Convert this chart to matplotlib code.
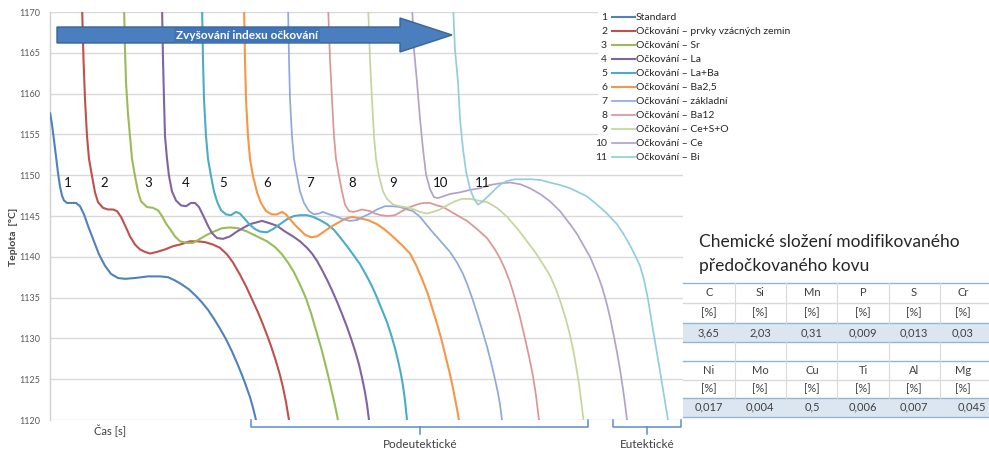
import matplotlib
matplotlib.use("Agg")
import matplotlib.pyplot as plt
from matplotlib.patches import Polygon, Rectangle
from matplotlib.lines import Line2D

plt.rcParams['font.family'] = ['Lato', 'DejaVu Sans']

# ---------------- data (time in arbitrary units, temperature in °C) ----------------
series_names = ["Standard", "Očkování – prvky vzácných zemin", "Očkování – Sr", "Očkování – La",
                "Očkování – La+Ba", "Očkování – Ba2,5", "Očkování – základní", "Očkování – Ba12",
                "Očkování – Ce+S+O", "Očkování – Ce", "Očkování – Bi"]
series_colors = ["#4F81BD", "#C0504D", "#9BBB59", "#8064A2", "#4BACC6", "#F79646",
                 "#8EA9DB", "#DA9694", "#C3D69B", "#B3A2C7", "#93CDDD"]

t1 = [0, 2, 4, 6, 8, 10, 12, 14, 17, 20, 26, 30, 34, 38, 43, 49, 55, 61, 68, 75, 85, 98, 110, 118, 125, 132, 139, 146, 152, 158, 164, 170, 176, 182, 187, 192, 196, 200, 203, 206]
T1 = [1157.7, 1156.2, 1154.3, 1152.3, 1150.3, 1148.6, 1147.5, 1146.9, 1146.6, 1146.6, 1146.6, 1146.2, 1145.2, 1143.8, 1142.2, 1140.3, 1138.9, 1137.9, 1137.4, 1137.3, 1137.4, 1137.6, 1137.6, 1137.5, 1137.1, 1136.6, 1136.0, 1135.2, 1134.4, 1133.5, 1132.4, 1131.2, 1129.9, 1128.4, 1127.0, 1125.5, 1124.2, 1122.8, 1121.5, 1120.0]

t2 = [32, 33.5, 35, 37, 39, 42, 45, 48, 53, 58, 63, 67, 71, 76, 80, 85, 90, 95, 100, 107, 115, 123, 130, 140, 147, 155, 163, 170, 177, 183, 190, 196, 202, 208, 213, 218, 222, 226, 230, 233, 236, 239]
T2 = [1171, 1164.2, 1159.3, 1154.8, 1152.0, 1149.9, 1147.9, 1146.7, 1146.0, 1145.8, 1145.8, 1145.6, 1144.9, 1143.6, 1142.5, 1141.5, 1140.9, 1140.6, 1140.4, 1140.6, 1140.9, 1141.3, 1141.5, 1141.9, 1141.9, 1141.8, 1141.5, 1141.1, 1140.3, 1139.3, 1137.8, 1136.4, 1134.8, 1133.2, 1131.7, 1130.1, 1128.7, 1127.2, 1125.5, 1124.0, 1122.2, 1120.0]

t3 = [74, 75, 76, 78, 80, 82, 85, 88, 91, 97, 103, 108, 112, 116, 120, 125, 130, 137, 143, 150, 157, 164, 172, 180, 188, 197, 207, 217, 225, 232, 238, 244, 250, 256, 261, 266, 271, 275, 279, 282, 285, 288]
T3 = [1171, 1165.4, 1161.4, 1157.5, 1154.8, 1152.0, 1149.9, 1148.0, 1146.8, 1146.1, 1146.0, 1145.7, 1145.0, 1144.1, 1143.4, 1142.5, 1141.9, 1141.7, 1141.7, 1142.2, 1142.7, 1143.1, 1143.5, 1143.6, 1143.5, 1143.1, 1142.5, 1141.9, 1141.2, 1140.3, 1139.3, 1138.1, 1136.6, 1134.9, 1133.1, 1131.0, 1128.9, 1127.0, 1125.0, 1123.4, 1121.8, 1120.0]

t4 = [112, 113, 114, 115, 117, 119, 122, 126, 131, 136, 141, 145, 149, 153, 158, 162, 167, 173, 180, 187, 194, 200, 206, 212, 220, 227, 235, 243, 250, 257, 262, 267, 272, 277, 282, 287, 292, 297, 301, 305, 309, 312, 315, 317, 319]
T4 = [1171, 1164.2, 1159.3, 1154.8, 1152.0, 1149.9, 1148.0, 1146.9, 1146.3, 1146.2, 1146.6, 1146.6, 1146.1, 1145.1, 1143.8, 1142.9, 1142.3, 1142.2, 1142.5, 1143.1, 1143.6, 1144.0, 1144.2, 1144.4, 1144.1, 1143.8, 1143.1, 1142.5, 1141.9, 1141.1, 1140.4, 1139.5, 1138.4, 1137.2, 1135.9, 1134.5, 1133.0, 1131.4, 1130.0, 1128.5, 1126.8, 1125.2, 1123.4, 1121.9, 1120.0]

t5 = [152, 153, 154, 156, 158, 161, 164, 167, 171, 176, 181, 186, 190, 195, 200, 205, 210, 217, 223, 230, 237, 244, 250, 257, 263, 270, 277, 284, 290, 297, 303, 310, 316, 322, 327, 332, 337, 341, 345, 348, 351, 353, 355, 357]
T5 = [1171, 1164.2, 1159.3, 1154.8, 1152.0, 1149.9, 1148.0, 1146.8, 1145.7, 1145.2, 1145.1, 1145.5, 1145.3, 1144.6, 1143.9, 1143.4, 1143.1, 1143.0, 1143.4, 1144.0, 1144.6, 1145.0, 1145.1, 1145.1, 1144.9, 1144.5, 1144.0, 1143.3, 1142.4, 1141.3, 1140.3, 1139.1, 1137.8, 1136.4, 1135.0, 1133.5, 1132.0, 1130.5, 1128.8, 1127.3, 1125.6, 1124.2, 1122.4, 1120.0]

t6 = [194, 195, 196, 198, 200, 203, 207, 211, 216, 222, 227, 232, 236, 240, 245, 250, 255, 261, 267, 273, 280, 287, 294, 302, 310, 318, 327, 334, 340, 347, 353, 360, 366, 372, 378, 383, 388, 392, 396, 400, 403, 406, 409]
T6 = [1171, 1164.2, 1159.3, 1154.8, 1152.0, 1149.9, 1147.9, 1146.6, 1145.6, 1145.2, 1145.2, 1145.5, 1145.2, 1144.6, 1143.9, 1143.3, 1142.7, 1142.4, 1142.5, 1143.0, 1143.6, 1144.1, 1144.6, 1144.9, 1144.7, 1144.5, 1144.0, 1143.4, 1142.8, 1142.0, 1141.3, 1140.4, 1139.0, 1137.3, 1135.4, 1133.4, 1131.4, 1129.6, 1127.6, 1125.6, 1123.9, 1122.0, 1120.0]

t7 = [238, 239, 240, 242, 244, 247, 250, 254, 259, 264, 269, 273, 277, 282, 287, 293, 300, 307, 313, 320, 327, 335, 342, 350, 357, 363, 370, 380, 390, 400, 407, 413, 417, 422, 427, 432, 437, 441, 445, 448, 450, 452]
T7 = [1171, 1164.2, 1159.3, 1154.8, 1152.0, 1149.9, 1148.0, 1146.6, 1145.6, 1145.2, 1145.3, 1145.5, 1145.3, 1145.1, 1144.9, 1144.6, 1144.4, 1144.5, 1144.9, 1145.3, 1145.8, 1146.2, 1146.2, 1146.1, 1145.8, 1145.6, 1144.9, 1143.4, 1142.0, 1140.6, 1139.3, 1137.9, 1136.7, 1135.0, 1133.1, 1131.1, 1129.0, 1127.1, 1125.0, 1123.3, 1121.9, 1120.0]

t8 = [278, 280, 282, 284, 286, 289, 292, 295, 299, 303, 307, 312, 316, 320, 325, 331, 338, 345, 352, 360, 367, 373, 380, 387, 393, 400, 407, 417, 427, 437, 445, 450, 455, 460, 465, 470, 475, 479, 483, 486, 489]
T8 = [1171, 1164.2, 1159.3, 1154.8, 1152.0, 1149.9, 1148.0, 1146.4, 1145.6, 1145.5, 1145.6, 1145.8, 1145.7, 1145.6, 1145.3, 1145.1, 1145.0, 1145.1, 1145.6, 1146.1, 1146.4, 1146.6, 1146.6, 1146.3, 1146.1, 1145.6, 1145.1, 1144.4, 1143.4, 1142.3, 1140.9, 1139.8, 1138.5, 1136.9, 1134.9, 1132.6, 1130.0, 1127.8, 1125.4, 1123.0, 1120.0]

t9 = [318, 320, 322, 324, 326, 329, 333, 337, 343, 350, 360, 370, 377, 383, 390, 397, 405, 412, 420, 428, 437, 447, 457, 467, 477, 485, 493, 500, 506, 511, 516, 520, 523, 526, 529, 531, 533.5]
T9 = [1171, 1164.2, 1159.3, 1154.8, 1152.0, 1149.9, 1148.0, 1147.1, 1146.4, 1146.2, 1146.0, 1145.5, 1145.3, 1145.5, 1145.8, 1146.3, 1146.8, 1147.1, 1147.1, 1146.9, 1146.7, 1146.0, 1144.9, 1143.5, 1141.9, 1140.6, 1139.1, 1137.7, 1136.0, 1134.3, 1132.3, 1130.4, 1128.7, 1126.7, 1124.4, 1122.5, 1120.0]

t10 = [362, 364, 367, 370, 373, 376, 380, 384, 388, 393, 400, 410, 420, 430, 440, 450, 460, 470, 480, 490, 500, 510, 520, 527, 533, 540, 547, 552, 556, 560, 564, 567, 570, 573, 575, 577]
T10 = [1171, 1165.4, 1161.4, 1156.9, 1153.2, 1150.1, 1148.3, 1147.3, 1147.2, 1147.4, 1147.7, 1147.9, 1148.2, 1148.4, 1148.8, 1149.0, 1149.1, 1148.9, 1148.4, 1147.7, 1146.8, 1145.6, 1144.0, 1142.8, 1141.5, 1140.0, 1138.0, 1136.3, 1134.6, 1132.6, 1130.2, 1128.3, 1126.2, 1123.8, 1122.0, 1120.0]

t11 = [403, 405, 408, 410, 413, 416, 420, 424, 428, 432, 437, 442, 447, 452, 457, 465, 473, 482, 491, 500, 510, 520, 527, 537, 547, 557, 567, 574, 580, 585, 590, 594, 598, 602, 606, 610, 614, 618]
T11 = [1171, 1165.4, 1161.4, 1156.9, 1153.2, 1150.5, 1148.3, 1147.1, 1146.4, 1146.7, 1147.3, 1147.9, 1148.5, 1149.0, 1149.3, 1149.5, 1149.5, 1149.5, 1149.4, 1149.1, 1148.8, 1148.4, 1148.0, 1147.4, 1146.4, 1145.3, 1144.0, 1142.7, 1141.4, 1140.2, 1138.9, 1137.2, 1134.8, 1131.8, 1128.9, 1126.0, 1123.0, 1120.0]

series_t = [t1, t2, t3, t4, t5, t6, t7, t8, t9, t10, t11]
series_T = [T1, T2, T3, T4, T5, T6, T7, T8, T9, T10, T11]

# curve number labels (time position)
label_numbers = ["1", "2", "3", "4", "5", "6", "7", "8", "9", "10", "11"]
label_t = [18, 54, 98, 136, 173, 217, 260, 302, 343, 391, 433]
label_T = 1149.1

y_ticks = [1120, 1125, 1130, 1135, 1140, 1145, 1150, 1155, 1160, 1165, 1170]

chem_elements_1 = ["C", "Si", "Mn", "P", "S", "Cr"]
chem_values_1 = ["3,65", "2,03", "0,31", "0,009", "0,013", "0,03"]
chem_elements_2 = ["Ni", "Mo", "Cu", "Ti", "Al", "Mg"]
chem_values_2 = ["0,017", "0,004", "0,5", "0,006", "0,007", "0,045"]

# ---------------- figure ----------------
W, H = 989, 453
fig = plt.figure(figsize=(W / 100, H / 100), dpi=100)
ax = fig.add_axes([50 / W, (H - 420) / H, 633 / W, 408 / H])

for i in range(11):
    lw = 1.5 if i < 6 else 1.25
    ax.plot(series_t[i], series_T[i], color=series_colors[i], lw=lw,
            solid_capstyle='butt', solid_joinstyle='round', zorder=3)

ax.set_xlim(0, 633)
ax.set_ylim(1120, 1170)
ax.set_yticks(y_ticks)
ax.set_xticks([])
ax.tick_params(axis='y', length=0, pad=7, labelsize=6.5, labelcolor='#595959')
ax.grid(axis='y', color='#D9D9D9', lw=1.0)
ax.set_axisbelow(True)
for s in ['top', 'right', 'bottom']:
    ax.spines[s].set_visible(False)
ax.spines['left'].set_color('#D0D0D0')
ax.spines['left'].set_linewidth(1.0)

for n, tx in zip(label_numbers, label_t):
    ax.text(tx, label_T, n, fontsize=9.5, color='#111111', ha='center', va='center', zorder=4)

# overlay in pixel coordinates for annotations
ov = fig.add_axes([0, 0, 1, 1], zorder=10)
ov.set_xlim(0, W)
ov.set_ylim(H, 0)
ov.axis('off')

# y label and x label
ov.text(14, 237, "Teplota  [°C]", rotation=90, fontsize=7.5, fontweight='bold', color='#404040',
        ha='center', va='center')
ov.text(110, 431, "Čas [s]", fontsize=8, color='#404040', ha='center', va='center')

# big arrow
arrow = Polygon([(57, 27), (400, 27), (400, 18), (452, 35), (400, 52), (400, 43), (57, 43)],
                closed=True, facecolor='#4A7EBF', edgecolor='#3A6496', lw=1.0)
ov.add_patch(arrow)
ov.text(247, 35.5, "Zvyšování indexu očkování", fontsize=8.5, fontweight='bold', color='white',
        ha='center', va='center',
        bbox=dict(boxstyle='square,pad=0.15', facecolor='#3F74B8', edgecolor='none'))

# legend (white box covering the gridlines)
ov.add_patch(Rectangle((598, 0), 200, 171, facecolor='white', edgecolor='none'))
for i in range(11):
    y = 17 + 14 * i
    ov.text(607, y, label_numbers[i], fontsize=7.5, color='#262626', ha='right', va='center')
    ov.add_line(Line2D([612, 635], [y, y], color=series_colors[i], lw=1.5 if i < 6 else 1.25))
    ov.text(636, y, series_names[i], fontsize=7.5, color='#262626', ha='left', va='center')

# braces
bc = '#5B8BD0'
ov.add_line(Line2D([251, 251, 588, 588], [420, 427, 427, 420], color=bc, lw=1.1))
ov.add_line(Line2D([420, 420], [427, 434], color=bc, lw=1.1))
ov.add_line(Line2D([613, 613, 681, 681], [420, 427, 427, 420], color=bc, lw=1.1))
ov.add_line(Line2D([647, 647], [427, 434], color=bc, lw=1.1))
ov.text(420, 445, "Podeutektické", fontsize=8.5, color='#404040', ha='center', va='center')
ov.text(647, 445, "Eutektické", fontsize=8.5, color='#404040', ha='center', va='center')

# chemistry title
ov.text(699, 242, "Chemické složení modifikovaného", fontsize=12.5, color='#262626', ha='left', va='center')
ov.text(699, 266, "předočkovaného kovu", fontsize=12.5, color='#262626', ha='left', va='center')

# table
col_edges = [683, 735, 786, 837, 889, 940, 990]
col_centers = [709, 760, 812, 863, 914, 963]
blue_line = '#95B3D7'
gray_line = '#D9D9D9'
fill = '#DCE6F1'
ov.add_patch(Rectangle((683, 323), 307, 19, facecolor=fill, edgecolor='none'))
ov.add_patch(Rectangle((683, 398), 307, 19, facecolor=fill, edgecolor='none'))
for y, c in [(283, blue_line), (303, gray_line), (323, blue_line), (342, blue_line),
             (361, blue_line), (380, gray_line), (398, blue_line), (417, blue_line)]:
    ov.add_line(Line2D([683, 990], [y, y], color=c, lw=1.0))
for x in col_edges[1:-1]:
    ov.add_line(Line2D([x, x], [283, 323], color=gray_line, lw=0.8))
    ov.add_line(Line2D([x, x], [342, 398], color=gray_line, lw=0.8))

tf = dict(fontsize=8, color='#404040', va='center')
for j in range(6):
    cx = col_centers[j]
    ov.text(cx, 293, chem_elements_1[j], ha='center', **tf)
    ov.text(cx, 313, "[%]", ha='center', **tf)
    ov.text(cx, 333, chem_values_1[j], ha='center', **tf)
    ov.text(cx, 371, chem_elements_2[j], ha='center', **tf)
    ov.text(cx, 389, "[%]", ha='center', **tf)
    if j == 5:
        ov.text(986, 407, chem_values_2[j], ha='right', **tf)
    else:
        ov.text(cx, 407, chem_values_2[j], ha='center', **tf)

fig.savefig("out.png", dpi=100)
